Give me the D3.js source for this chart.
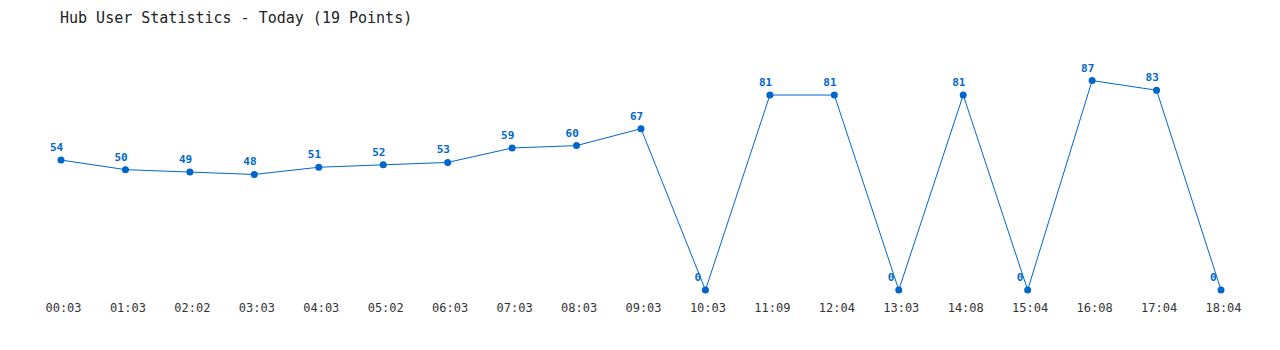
<!DOCTYPE html>
<html>
<head>
<meta charset="utf-8">
<script src="https://cdn.jsdelivr.net/npm/d3@7"></script>
<style>
  body { margin: 0; background: #fff; }
  text { font-family: "DejaVu Sans Mono", "Liberation Mono", monospace; }
</style>
</head>
<body>
<script>
const times  = ["00:03","01:03","02:02","03:03","04:03","05:02","06:03","07:03","08:03","09:03",
                "10:03","11:09","12:04","13:03","14:08","15:04","16:08","17:04","18:04"];
const users  = [54, 50, 49, 48, 51, 52, 53, 59, 60, 67, 0, 81, 81, 0, 81, 0, 87, 83, 0];

const width = 1280;
const height = 350;
const blue = "#0066cc";

const svg = d3.select("body")
  .append("svg")
  .attr("width", width)
  .attr("height", height);

// title
svg.append("text")
  .attr("x", 60)
  .attr("y", 23)
  .attr("font-size", 15)
  .attr("fill", "#222")
  .text("Hub User Statistics - Today (19 Points)");

const x = d3.scalePoint()
  .domain(times)
  .range([61, 1221]);

const y = d3.scaleLinear()
  .domain([0, 100])
  .range([290, 49.3]);

// x axis labels only, no line
const xAxis = svg.append("g")
  .attr("transform", "translate(2,0)")
  .call(d3.axisBottom(x).tickSize(0).tickPadding(0));
xAxis.select(".domain").remove();
xAxis.selectAll("text")
  .attr("y", 312)
  .attr("dy", null)
  .attr("font-size", 12)
  .attr("font-family", "DejaVu Sans Mono, monospace")
  .attr("fill", "#333");

const line = d3.line()
  .x((d, i) => x(times[i]))
  .y(d => y(d));

svg.append("path")
  .datum(users)
  .attr("fill", "none")
  .attr("stroke", blue)
  .attr("stroke-width", 1)
  .attr("d", line);

svg.selectAll("circle")
  .data(users)
  .enter()
  .append("circle")
  .attr("cx", (d, i) => x(times[i]))
  .attr("cy", d => y(d))
  .attr("r", 3.5)
  .attr("fill", blue);

svg.selectAll("text.val")
  .data(users)
  .enter()
  .append("text")
  .attr("class", "val")
  .attr("x", (d, i) => x(times[i]) - 11)
  .attr("y", d => y(d) - 9)
  .attr("font-size", 11)
  .attr("font-weight", "bold")
  .attr("fill", blue)
  .text(d => d);
</script>
</body>
</html>
